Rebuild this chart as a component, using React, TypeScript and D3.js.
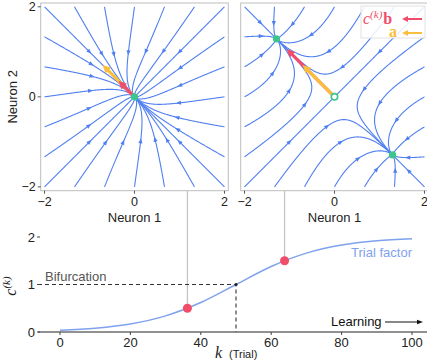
import * as d3 from "d3";
import React, { useEffect, useRef } from "react";

// trial factor c^(k)
const trialK = [0, 10, 20, 30, 40, 50, 60, 70, 80, 90, 100];
const trialC = [0.037, 0.081, 0.169, 0.34, 0.62, 1.0, 1.38, 1.66, 1.83, 1.92, 1.963];

// the two snapshots shown in the phase portraits
const panelTrials = [36.2, 63.8];
const panelC = [0.5, 1.5];

// rank-one connectivity W = c * b a^T
const vecA = [-0.7071, 0.7071];
const vecB = [-0.7071, 0.7071];

const stablePoints = [[[0, 0]], [[-1.29, 1.29], [1.29, -1.29]]];
const unstablePoints = [[], [[0, 0]]];

const seedPositions = [-2, -4 / 3, -2 / 3, 0, 2 / 3, 4 / 3, 2];
const phaseTicks = [-2, 0, 2];
const kTicks = [0, 20, 40, 60, 80, 100];
const cTicks = [0, 1, 2];

const bifurcationK = 50;
const bifurcationC = 1;

const BLUE = "#4f7ff0";
const RED = "#f14d6a";
const YELLOW = "#fbbd3c";
const GREEN = "#3cc58c";
const SANS = "'Liberation Sans', Arial, sans-serif";
const SERIF = "'Liberation Serif', 'DejaVu Serif', serif";

function field(p: number[], c: number) {
  const proj = vecA[0] * Math.tanh(p[0]) + vecA[1] * Math.tanh(p[1]);
  return [-p[0] + c * vecB[0] * proj, -p[1] + c * vecB[1] * proj];
}

function trace(seed: number[], c: number, sinks: number[][]) {
  const ds = 0.012;
  const dir = (q: number[]) => {
    const v = field(q, c);
    const n = Math.hypot(v[0], v[1]);
    return n < 1e-9 ? [0, 0] : [v[0] / n, v[1] / n];
  };
  let p = seed.slice();
  const pts = [p];
  for (let i = 0; i < 4000; i++) {
    const k1 = dir(p);
    const k2 = dir([p[0] + (k1[0] * ds) / 2, p[1] + (k1[1] * ds) / 2]);
    p = [p[0] + k2[0] * ds, p[1] + k2[1] * ds];
    pts.push(p);
    const hit = sinks.find((s) => Math.hypot(p[0] - s[0], p[1] - s[1]) < ds * 1.5);
    if (hit) {
      pts.push(hit);
      break;
    }
    if (Math.abs(p[0]) > 2.2 || Math.abs(p[1]) > 2.2) break;
  }
  return pts;
}

function arrow(
  g: d3.Selection<SVGGElement, unknown, null, undefined>,
  x1: number, y1: number, x2: number, y2: number,
  color: string, width: number, headLen: number, headW: number,
) {
  const ang = Math.atan2(y2 - y1, x2 - x1);
  const bx = x2 - Math.cos(ang) * headLen;
  const by = y2 - Math.sin(ang) * headLen;
  g.append("line")
    .attr("x1", x1).attr("y1", y1)
    .attr("x2", bx + Math.cos(ang) * 1).attr("y2", by + Math.sin(ang) * 1)
    .attr("stroke", color).attr("stroke-width", width);
  const nx = -Math.sin(ang) * headW / 2;
  const ny = Math.cos(ang) * headW / 2;
  g.append("path")
    .attr("d", `M${x2},${y2}L${bx + nx},${by + ny}L${bx - nx},${by - ny}Z`)
    .attr("fill", color);
}

export default function App() {
  const ref = useRef<SVGSVGElement | null>(null);

  useEffect(() => {
    if (!ref.current) return;
    const svg = d3.select(ref.current);
    svg.selectAll("*").remove();
    svg.style("font-family", SANS);

    const boxW = 187.6;
    const boxTop = 3;
    const boxBottom = 190.7;
    const lim = 2.085;
    const panelLeft = [40.7, 240.7];

    const panelX: d3.ScaleLinear<number, number>[] = [];

    panelLeft.forEach((x0, pi) => {
      const c = panelC[pi];
      const x = d3.scaleLinear().domain([-lim, lim]).range([x0, x0 + boxW]);
      const y = d3.scaleLinear().domain([-lim, lim]).range([boxBottom, boxTop]);
      panelX.push(x);

      const clipId = `clip${pi}`;
      svg.append("clipPath").attr("id", clipId)
        .append("rect").attr("x", x0).attr("y", boxTop)
        .attr("width", boxW).attr("height", boxBottom - boxTop);

      const g = svg.append("g").attr("clip-path", `url(#${clipId})`);

      // seeds along the border
      const seeds: number[][] = [];
      const seen = new Set<string>();
      seedPositions.forEach((s) => {
        [[s, 2], [s, -2], [2, s], [-2, s]].forEach((p) => {
          const key = p.map((v) => v.toFixed(3)).join(",");
          if (!seen.has(key)) {
            seen.add(key);
            seeds.push(p);
          }
        });
      });

      const sinks = [...stablePoints[pi], ...unstablePoints[pi]];
      const line = d3.line<number[]>().x((d) => x(d[0])).y((d) => y(d[1]));

      seeds.forEach((s) => {
        const pts = trace(s, c, sinks);
        if (pts.length < 4) return;
        g.append("path").attr("d", line(pts)).attr("fill", "none")
          .attr("stroke", BLUE).attr("stroke-width", 1.1);
        // arrow at half the arc length
        const lens = [0];
        for (let i = 1; i < pts.length; i++) {
          lens.push(lens[i - 1] + Math.hypot(pts[i][0] - pts[i - 1][0], pts[i][1] - pts[i - 1][1]));
        }
        const half = lens[lens.length - 1] / 2;
        const i = Math.max(1, Math.min(pts.length - 2, lens.findIndex((l) => l >= half)));
        const p0 = pts[i - 1], p1 = pts[i + 1];
        const ang = Math.atan2(y(p1[1]) - y(p0[1]), x(p1[0]) - x(p0[0]));
        const cx = x(pts[i][0]), cy = y(pts[i][1]);
        const L = 5, W = 4.2;
        const tx = cx + Math.cos(ang) * L / 2, ty = cy + Math.sin(ang) * L / 2;
        const bx = cx - Math.cos(ang) * L / 2, by = cy - Math.sin(ang) * L / 2;
        const nx = -Math.sin(ang) * W / 2, ny = Math.cos(ang) * W / 2;
        g.append("path").attr("d", `M${tx},${ty}L${bx + nx},${by + ny}L${bx - nx},${by - ny}Z`)
          .attr("fill", BLUE);
      });

      // vectors a and c*b, longer one drawn first
      const vecs = [
        { v: vecA, s: 1, color: YELLOW },
        { v: vecB, s: c, color: RED },
      ].sort((p, q) => q.s - p.s);
      const ag = svg.append("g");
      vecs.forEach((d) => {
        arrow(ag, x(0), y(0), x(d.v[0] * d.s), y(d.v[1] * d.s), d.color, 3.2, 8, 8);
      });

      // fixed points
      stablePoints[pi].forEach((p) => {
        svg.append("circle").attr("cx", x(p[0])).attr("cy", y(p[1])).attr("r", 3.6).attr("fill", GREEN);
      });
      unstablePoints[pi].forEach((p) => {
        svg.append("circle").attr("cx", x(p[0])).attr("cy", y(p[1])).attr("r", 3.2)
          .attr("fill", "#fff").attr("stroke", GREEN).attr("stroke-width", 1.6);
      });

      // frame
      svg.append("rect").attr("x", x0).attr("y", boxTop).attr("width", boxW)
        .attr("height", boxBottom - boxTop).attr("fill", "none")
        .attr("stroke", "#bdbdbd").attr("stroke-width", 1);

      // x ticks
      phaseTicks.forEach((t) => {
        svg.append("line").attr("x1", x(t)).attr("x2", x(t))
          .attr("y1", boxBottom).attr("y2", boxBottom + 3).attr("stroke", "#555");
        svg.append("text").attr("x", x(t)).attr("y", 206).attr("text-anchor", "middle")
          .attr("font-size", 12.5).attr("fill", "#222").text(t < 0 ? `\u2212${-t}` : `${t}`);
      });
      svg.append("text").attr("x", x(0)).attr("y", 222).attr("text-anchor", "middle")
        .attr("font-size", 13).attr("fill", "#222").text("Neuron 1");

      if (pi === 0) {
        phaseTicks.forEach((t) => {
          svg.append("line").attr("x1", x0 - 3).attr("x2", x0)
            .attr("y1", y(t)).attr("y2", y(t)).attr("stroke", "#555");
          svg.append("text").attr("x", x0 - 5).attr("y", y(t) + 4.5).attr("text-anchor", "end")
            .attr("font-size", 12.5).attr("fill", "#222").text(t < 0 ? `\u2212${-t}` : `${t}`);
        });
        svg.append("text").attr("transform", `translate(17,${y(0)}) rotate(-90)`)
          .attr("text-anchor", "middle").attr("font-size", 13).attr("fill", "#222").text("Neuron 2");
      }
    });

    // legend in the right panel
    const lg = svg.append("g");
    lg.append("rect").attr("x", 361).attr("y", 6).attr("width", 64).attr("height", 32)
      .attr("fill", "#fff").attr("fill-opacity", 0.85).attr("stroke", "#e2e2e2");
    const t1 = lg.append("text").attr("x", 363).attr("y", 24).attr("fill", RED)
      .attr("font-family", SERIF).attr("font-size", 16);
    t1.append("tspan").attr("font-style", "italic").text("c");
    t1.append("tspan").attr("font-style", "italic").attr("font-size", 11).attr("dy", -6).text("(k)");
    t1.append("tspan").attr("font-weight", "bold").attr("dy", 6).attr("dx", 1).text("b");
    lg.append("text").attr("x", 389).attr("y", 37).attr("fill", YELLOW)
      .attr("font-family", SERIF).attr("font-size", 16).attr("font-weight", "bold").text("a");
    arrow(lg, 422, 19, 402, 19, RED, 2, 6, 6);
    arrow(lg, 422, 33, 402, 33, YELLOW, 2, 6, 6);

    // lower panel: trial factor
    const kx = d3.scaleLinear().domain([0, 100]).range([60, 412]);
    const cy = d3.scaleLinear().domain([0, 2]).range([332, 237]);

    // guide lines from the phase portraits
    panelTrials.forEach((k, i) => {
      svg.append("line").attr("x1", kx(k)).attr("x2", kx(k))
        .attr("y1", boxBottom).attr("y2", cy(panelC[i]))
        .attr("stroke", "#c4c4c4").attr("stroke-width", 1.3);
    });

    // bifurcation guides
    svg.append("path")
      .attr("d", `M38,${cy(bifurcationC)}H${kx(bifurcationK)}V${cy(0)}`)
      .attr("fill", "none").attr("stroke", "#333").attr("stroke-width", 1.1)
      .attr("stroke-dasharray", "4,3");
    svg.append("text").attr("x", 45).attr("y", 281).attr("font-size", 13)
      .attr("fill", "#555").text("Bifurcation");

    // axis
    svg.append("line").attr("x1", 38).attr("x2", 427).attr("y1", cy(0)).attr("y2", cy(0))
      .attr("stroke", "#222").attr("stroke-width", 1);
    kTicks.forEach((t) => {
      svg.append("line").attr("x1", kx(t)).attr("x2", kx(t)).attr("y1", cy(0)).attr("y2", cy(0) + 3)
        .attr("stroke", "#444");
      svg.append("text").attr("x", kx(t)).attr("y", 347).attr("text-anchor", "middle")
        .attr("font-size", 13).attr("fill", "#222").text(t);
    });
    cTicks.forEach((t) => {
      svg.append("line").attr("x1", 37).attr("x2", 40).attr("y1", cy(t)).attr("y2", cy(t))
        .attr("stroke", "#444");
      svg.append("text").attr("x", 35).attr("y", cy(t) + 4.5).attr("text-anchor", "end")
        .attr("font-size", 13).attr("fill", "#222").text(t);
    });

    // trial factor curve
    const curve = d3.line<number>().x((_, i) => kx(trialK[i])).y((d) => cy(d)).curve(d3.curveMonotoneX);
    svg.append("path").attr("d", curve(trialC)).attr("fill", "none")
      .attr("stroke", "#7fa2ee").attr("stroke-width", 1.5);
    svg.append("text").attr("x", 412).attr("y", 257).attr("text-anchor", "end")
      .attr("font-size", 13).attr("fill", "#7fa2ee").text("Trial factor");

    svg.append("circle").attr("cx", kx(bifurcationK)).attr("cy", cy(bifurcationC)).attr("r", 1.6).attr("fill", "#222");
    panelTrials.forEach((k, i) => {
      svg.append("circle").attr("cx", kx(k)).attr("cy", cy(panelC[i])).attr("r", 4.5).attr("fill", RED);
    });

    // learning arrow
    svg.append("text").attr("x", 331).attr("y", 326).attr("font-size", 13).attr("fill", "#111").text("Learning");
    const la = svg.append("g");
    arrow(la, 385, 322, 423, 322, "#111", 1.1, 6, 4.5);

    // axis labels
    const xl = svg.append("text").attr("y", 358).attr("fill", "#222");
    xl.append("tspan").attr("x", 215).attr("font-family", SERIF).attr("font-style", "italic")
      .attr("font-size", 16).text("k");
    xl.append("tspan").attr("x", 229).attr("font-size", 11).text("(Trial)");

    const yl = svg.append("text").attr("transform", "translate(16,286) rotate(-90)")
      .attr("text-anchor", "middle").attr("fill", "#222").attr("font-family", SERIF);
    yl.append("tspan").attr("font-style", "italic").attr("font-size", 16).text("c");
    yl.append("tspan").attr("font-style", "italic").attr("font-size", 11).attr("dy", -6).text("(k)");
  }, []);

  return (
    <svg
      ref={ref}
      width={427}
      height={362}
      style={{ position: "absolute", left: 0, top: 0, background: "#fff" }}
    />
  );
}
